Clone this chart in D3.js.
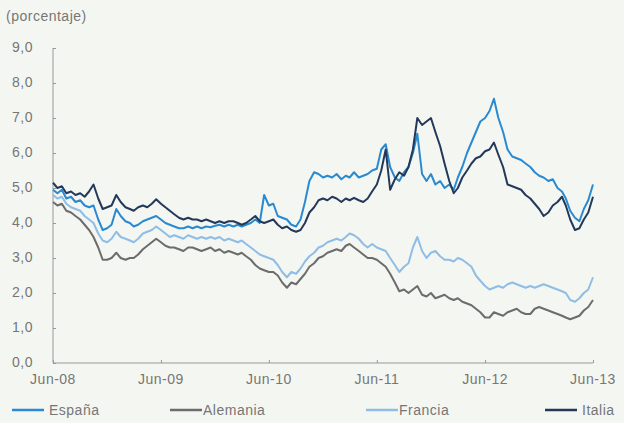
<!DOCTYPE html>
<html>
<head>
<meta charset="utf-8">
<script src="https://cdn.jsdelivr.net/npm/d3@7"></script>
<style>
    body {
        margin: 0;
        background: #f4f6f2;
    }
    text {
        font-family: "Liberation Sans", Arial, sans-serif;
        fill: #767676;
        letter-spacing: 0.5px;
    }
</style>
</head>
<body>
<div id="chart"></div>
<script>

// semi-monthly readings, first and 16th of each month, Jun-08 to Jun-13
const espana = [
    4.95, 4.85, 4.95, 4.7, 4.75, 4.6, 4.65, 4.5, 4.45, 4.5,
    4.1, 3.8, 3.85, 3.95, 4.4, 4.2, 4.05, 4.0, 3.9, 3.95,
    4.05, 4.1, 4.15, 4.2, 4.1, 4.0, 3.95, 3.9, 3.85, 3.85,
    3.9, 3.85, 3.9, 3.85, 3.9, 3.88, 3.92, 3.95, 3.9, 3.95,
    3.9, 3.95, 3.9, 3.95, 4.0, 4.1, 4.0, 4.8, 4.5, 4.55,
    4.2, 4.15, 4.1, 3.95, 3.9, 4.1, 4.6, 5.2, 5.45, 5.4,
    5.3, 5.35, 5.3, 5.4, 5.25, 5.35, 5.3, 5.45, 5.3, 5.35,
    5.4, 5.5, 5.55, 6.1, 6.25, 5.6, 5.3, 5.2, 5.45, 5.6,
    6.0, 6.55, 5.4, 5.2, 5.4, 5.1, 5.2, 5.0, 5.1, 4.95,
    5.3, 5.6, 6.0, 6.3, 6.6, 6.9, 7.0, 7.2, 7.55, 7.0,
    6.6, 6.1, 5.9, 5.85, 5.8, 5.7, 5.6, 5.45, 5.35, 5.3,
    5.2, 5.25, 5.0, 4.9, 4.7, 4.35, 4.15, 4.05, 4.4, 4.65,
    5.1
];

const alemania = [
    4.6, 4.5, 4.55, 4.35, 4.3, 4.2, 4.1, 3.95, 3.8, 3.6,
    3.3, 2.95, 2.95, 3.0, 3.15, 3.0, 2.95, 3.0, 3.0, 3.1,
    3.25, 3.35, 3.45, 3.55, 3.45, 3.35, 3.3, 3.3, 3.25, 3.2,
    3.3, 3.3, 3.25, 3.2, 3.25, 3.3, 3.2, 3.25, 3.15, 3.2,
    3.15, 3.1, 3.15, 3.05, 2.95, 2.8, 2.7, 2.65, 2.6, 2.6,
    2.5, 2.3, 2.15, 2.3, 2.25, 2.4, 2.55, 2.75, 2.85, 3.0,
    3.05, 3.15, 3.2, 3.25, 3.2, 3.35, 3.4, 3.3, 3.2, 3.1,
    3.0, 3.0, 2.95, 2.85, 2.75, 2.55, 2.3, 2.05, 2.1, 2.0,
    2.1, 2.2, 1.95, 1.9, 2.0, 1.85, 1.9, 1.95, 1.85, 1.8,
    1.85, 1.75, 1.7, 1.65, 1.55, 1.45, 1.3, 1.3, 1.45, 1.4,
    1.35, 1.45, 1.5, 1.55, 1.45, 1.4, 1.4, 1.55, 1.6, 1.55,
    1.5, 1.45, 1.4, 1.35, 1.3, 1.25, 1.3, 1.35, 1.5, 1.6,
    1.8
];

const francia = [
    4.8, 4.7, 4.75, 4.55, 4.45, 4.4, 4.35, 4.2, 4.1, 4.0,
    3.7, 3.5, 3.45, 3.55, 3.75, 3.6, 3.55, 3.5, 3.45, 3.55,
    3.7, 3.75, 3.8, 3.9, 3.8, 3.7, 3.6, 3.65, 3.6, 3.55,
    3.65, 3.6, 3.55, 3.6, 3.55, 3.6, 3.55, 3.6, 3.5, 3.55,
    3.5, 3.45, 3.5, 3.4, 3.3, 3.2, 3.1, 3.05, 3.0, 2.95,
    2.8, 2.6, 2.45, 2.6, 2.55, 2.7, 2.9, 3.05, 3.15, 3.3,
    3.35, 3.45, 3.5, 3.55, 3.5, 3.6, 3.7, 3.65, 3.55, 3.4,
    3.3, 3.4, 3.3, 3.25, 3.2, 3.0, 2.8, 2.6, 2.75, 2.85,
    3.3, 3.6, 3.2, 3.0, 3.15, 3.2, 3.05, 2.95, 2.95, 2.9,
    3.0, 2.95, 2.85, 2.75, 2.5, 2.35, 2.2, 2.1, 2.15, 2.2,
    2.15, 2.25, 2.3, 2.25, 2.2, 2.15, 2.2, 2.15, 2.2, 2.25,
    2.2, 2.15, 2.1, 2.05, 2.0, 1.8, 1.75, 1.85, 2.0, 2.1,
    2.45
];

const italia = [
    5.15, 5.0, 5.05, 4.85, 4.9, 4.8, 4.85, 4.75, 4.9, 5.1,
    4.7, 4.4, 4.45, 4.5, 4.8, 4.6, 4.45, 4.4, 4.35, 4.45,
    4.5, 4.45, 4.55, 4.68, 4.55, 4.45, 4.35, 4.25, 4.15, 4.1,
    4.15, 4.1, 4.1, 4.05, 4.1, 4.05, 4.0, 4.05, 4.0, 4.05,
    4.05, 4.0, 3.95, 4.0, 4.1, 4.2, 4.05, 4.0, 4.05, 4.1,
    3.95, 3.85, 3.9, 3.8, 3.75, 3.8, 4.0, 4.3, 4.45, 4.65,
    4.7, 4.65, 4.75, 4.7, 4.6, 4.7, 4.65, 4.72, 4.65, 4.6,
    4.7, 4.9, 5.1, 5.5, 6.1, 4.95, 5.25, 5.45, 5.35, 5.6,
    6.1, 7.0, 6.8, 6.9, 7.0, 6.6, 6.2, 5.7, 5.2, 4.85,
    5.0, 5.3, 5.5, 5.7, 5.85, 5.9, 6.05, 6.1, 6.3, 5.95,
    5.6, 5.1, 5.05, 5.0, 4.95, 4.8, 4.7, 4.55, 4.4, 4.2,
    4.3, 4.5, 4.6, 4.75, 4.5, 4.1, 3.8, 3.85, 4.1, 4.3,
    4.75
];

const seriesNames = ["España", "Alemania", "Francia", "Italia"];
const seriesColors = ["#2a8ad0", "#6c6c6c", "#8fbde6", "#24395a"];
const yTicks = [0, 1, 2, 3, 4, 5, 6, 7, 8, 9];
const xTickYears = [2008, 2009, 2010, 2011, 2012, 2013];

// dates: 1st and 16th of every month, cut at Jun-13
const dates = [];
d3.timeMonth.range(new Date(2008, 5, 1), new Date(2013, 6, 1)).forEach(function(m) {
    dates.push(m);
    dates.push(new Date(m.getFullYear(), m.getMonth(), 16));
});
dates.length = espana.length;

const allSeries = [espana, alemania, francia, italia];

const width = 624;
const height = 423;

const svg = d3.select("#chart")
    .append("svg")
    .attr("width", width)
    .attr("height", height);

const x = d3.scaleTime()
    .domain([new Date(2008, 5, 1), new Date(2013, 5, 1)])
    .range([53, 593]);

const y = d3.scaleLinear()
    .domain([0, 9])
    .range([363, 48]);

const axisColor = "#999";

// unit label
svg.append("text")
    .attr("x", 6)
    .attr("y", 21)
    .style("font-size", "14px")
    .text("(porcentaje)");

// y axis
const yAxis = svg.append("g")
    .attr("transform", "translate(53,0)")
    .call(d3.axisRight(y).tickValues(yTicks).tickSize(3).tickFormat(""));

yAxis.select(".domain").attr("stroke", axisColor).attr("d", "M0," + y(9) + "V" + y(0));
yAxis.selectAll(".tick line").attr("stroke", axisColor);

svg.selectAll(".ylab")
    .data(yTicks)
    .enter()
    .append("text")
    .attr("class", "ylab")
    .attr("x", 12)
    .attr("y", function(d) { return y(d) + 4; })
    .style("font-size", "14px")
    .text(function(d) { return d.toFixed(1).replace(".", ","); });

// x axis
const xTicks = xTickYears.map(function(yr) { return new Date(yr, 5, 1); });

const xAxis = svg.append("g")
    .attr("transform", "translate(0,363)")
    .call(d3.axisTop(x).tickValues(xTicks).tickSize(3).tickFormat(""));

xAxis.select(".domain").attr("stroke", axisColor).attr("d", "M53,0H593");
xAxis.selectAll(".tick line").attr("stroke", axisColor);

const fmt = d3.timeFormat("%y");

svg.selectAll(".xlab")
    .data(xTicks)
    .enter()
    .append("text")
    .attr("class", "xlab")
    .attr("x", function(d) { return x(d); })
    .attr("y", 384)
    .attr("text-anchor", "middle")
    .style("font-size", "14px")
    .text(function(d) { return "Jun-" + fmt(d); });

// lines
const line = d3.line()
    .x(function(d, i) { return x(dates[i]); })
    .y(function(d) { return y(d); });

svg.selectAll(".series")
    .data(allSeries)
    .enter()
    .append("path")
    .attr("class", "series")
    .attr("fill", "none")
    .attr("stroke", function(d, i) { return seriesColors[i]; })
    .attr("stroke-width", 2)
    .attr("stroke-linejoin", "round")
    .attr("d", line);

// legend
const legendX = [12, 170, 366, 545];

const legend = svg.selectAll(".legend")
    .data(seriesNames)
    .enter()
    .append("g")
    .attr("class", "legend")
    .attr("transform", function(d, i) { return "translate(" + legendX[i] + ",410)"; });

legend.append("line")
    .attr("x1", 0)
    .attr("x2", 32)
    .attr("stroke", function(d, i) { return seriesColors[i]; })
    .attr("stroke-width", 2.5);

legend.append("text")
    .attr("x", function(d, i) { return i === 0 || i === 3 ? 37 : 33; })
    .attr("y", 5)
    .style("font-size", "14px")
    .text(function(d) { return d; });

</script>
</body>
</html>
